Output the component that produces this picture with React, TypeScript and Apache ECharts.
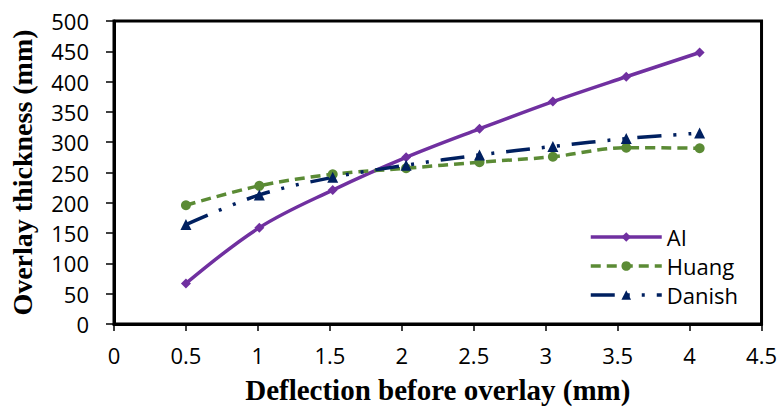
import React, { useEffect, useRef } from "react";
import * as echarts from "echarts";

const deflection = [0.5, 1.01, 1.52, 2.03, 2.54, 3.05, 3.56, 4.07];
const aiValues = [67, 159, 221, 275, 322, 367, 408, 448];
const huangValues = [196, 228, 247, 257, 267, 276, 291, 290];
const danishValues = [164, 213, 242, 262, 279, 293, 306, 315];
const seriesNames = ["AI", "Huang", "Danish"];

const pairs = (ys: number[]) => deflection.map((x, i) => [x, ys[i]]);

export default function App() {
  const ref = useRef<HTMLDivElement>(null);
  useEffect(() => {
    document.body.style.margin = "0";
    if (!ref.current) return;
    const chart = echarts.init(ref.current, undefined, { renderer: "svg" });
    const tickFont = { fontFamily: "'Open Sans'", fontSize: 22, color: "#000" };
    const titleFont = {
      fontFamily: "'Liberation Serif', 'Times New Roman', serif",
      fontWeight: "bold" as const,
      fontSize: 28,
      color: "#000",
    };
    chart.setOption({
      animation: false,
      backgroundColor: "#fff",
      grid: {
        left: 112,
        top: 21,
        right: 18,
        bottom: 83,
        show: true,
        borderColor: "#000",
        borderWidth: 3,
      },
      legend: {
        orient: "vertical",
        left: 589,
        top: 226,
        padding: 0,
        itemWidth: 71,
        itemHeight: 12,
        itemGap: 7,
        lineStyle: { width: 3.5 },
        textStyle: { ...tickFont, lineHeight: 22 },
        data: seriesNames,
      },
      xAxis: {
        type: "value",
        min: 0,
        max: 4.5,
        interval: 0.5,
        name: "Deflection before overlay (mm)",
        nameLocation: "middle",
        nameGap: 51,
        nameTextStyle: { ...titleFont, fontSize: 29 },
        axisLine: { lineStyle: { color: "#000", width: 3 } },
        axisTick: { show: true, length: 7, lineStyle: { color: "#000", width: 1.5 } },
        axisLabel: { ...tickFont, margin: 20 },
        splitLine: { show: false },
      },
      yAxis: {
        type: "value",
        min: 0,
        max: 500,
        interval: 50,
        name: "Overlay thickness (mm)",
        nameLocation: "middle",
        nameGap: 78,
        nameTextStyle: titleFont,
        axisLine: { show: true, lineStyle: { color: "#000", width: 3 } },
        axisTick: { show: true, length: 8, lineStyle: { color: "#000", width: 1.5 } },
        axisLabel: { ...tickFont, margin: 25 },
        splitLine: { show: false },
      },
      series: [
        {
          name: seriesNames[0],
          type: "line",
          data: pairs(aiValues),
          smooth: 0.35,
          symbol: "diamond",
          symbolSize: 10,
          lineStyle: { color: "#7030A0", width: 3.5 },
          itemStyle: { color: "#7030A0" },
        },
        {
          name: seriesNames[1],
          type: "line",
          data: pairs(huangValues),
          smooth: 0.35,
          symbol: "circle",
          symbolSize: 10,
          lineStyle: { color: "#5B8B35", width: 3.5, type: [10, 6], cap: "butt" },
          itemStyle: { color: "#5B8B35" },
        },
        {
          name: seriesNames[2],
          type: "line",
          data: pairs(danishValues),
          smooth: 0.35,
          symbol: "triangle",
          symbolSize: 11,
          lineStyle: {
            color: "#002060",
            width: 3.5,
            type: [24, 12, 3, 12, 3, 12],
            cap: "butt",
          },
          itemStyle: { color: "#002060" },
        },
      ],
    });
    return () => chart.dispose();
  }, []);
  return <div ref={ref} style={{ width: 780, height: 409 }} />;
}
